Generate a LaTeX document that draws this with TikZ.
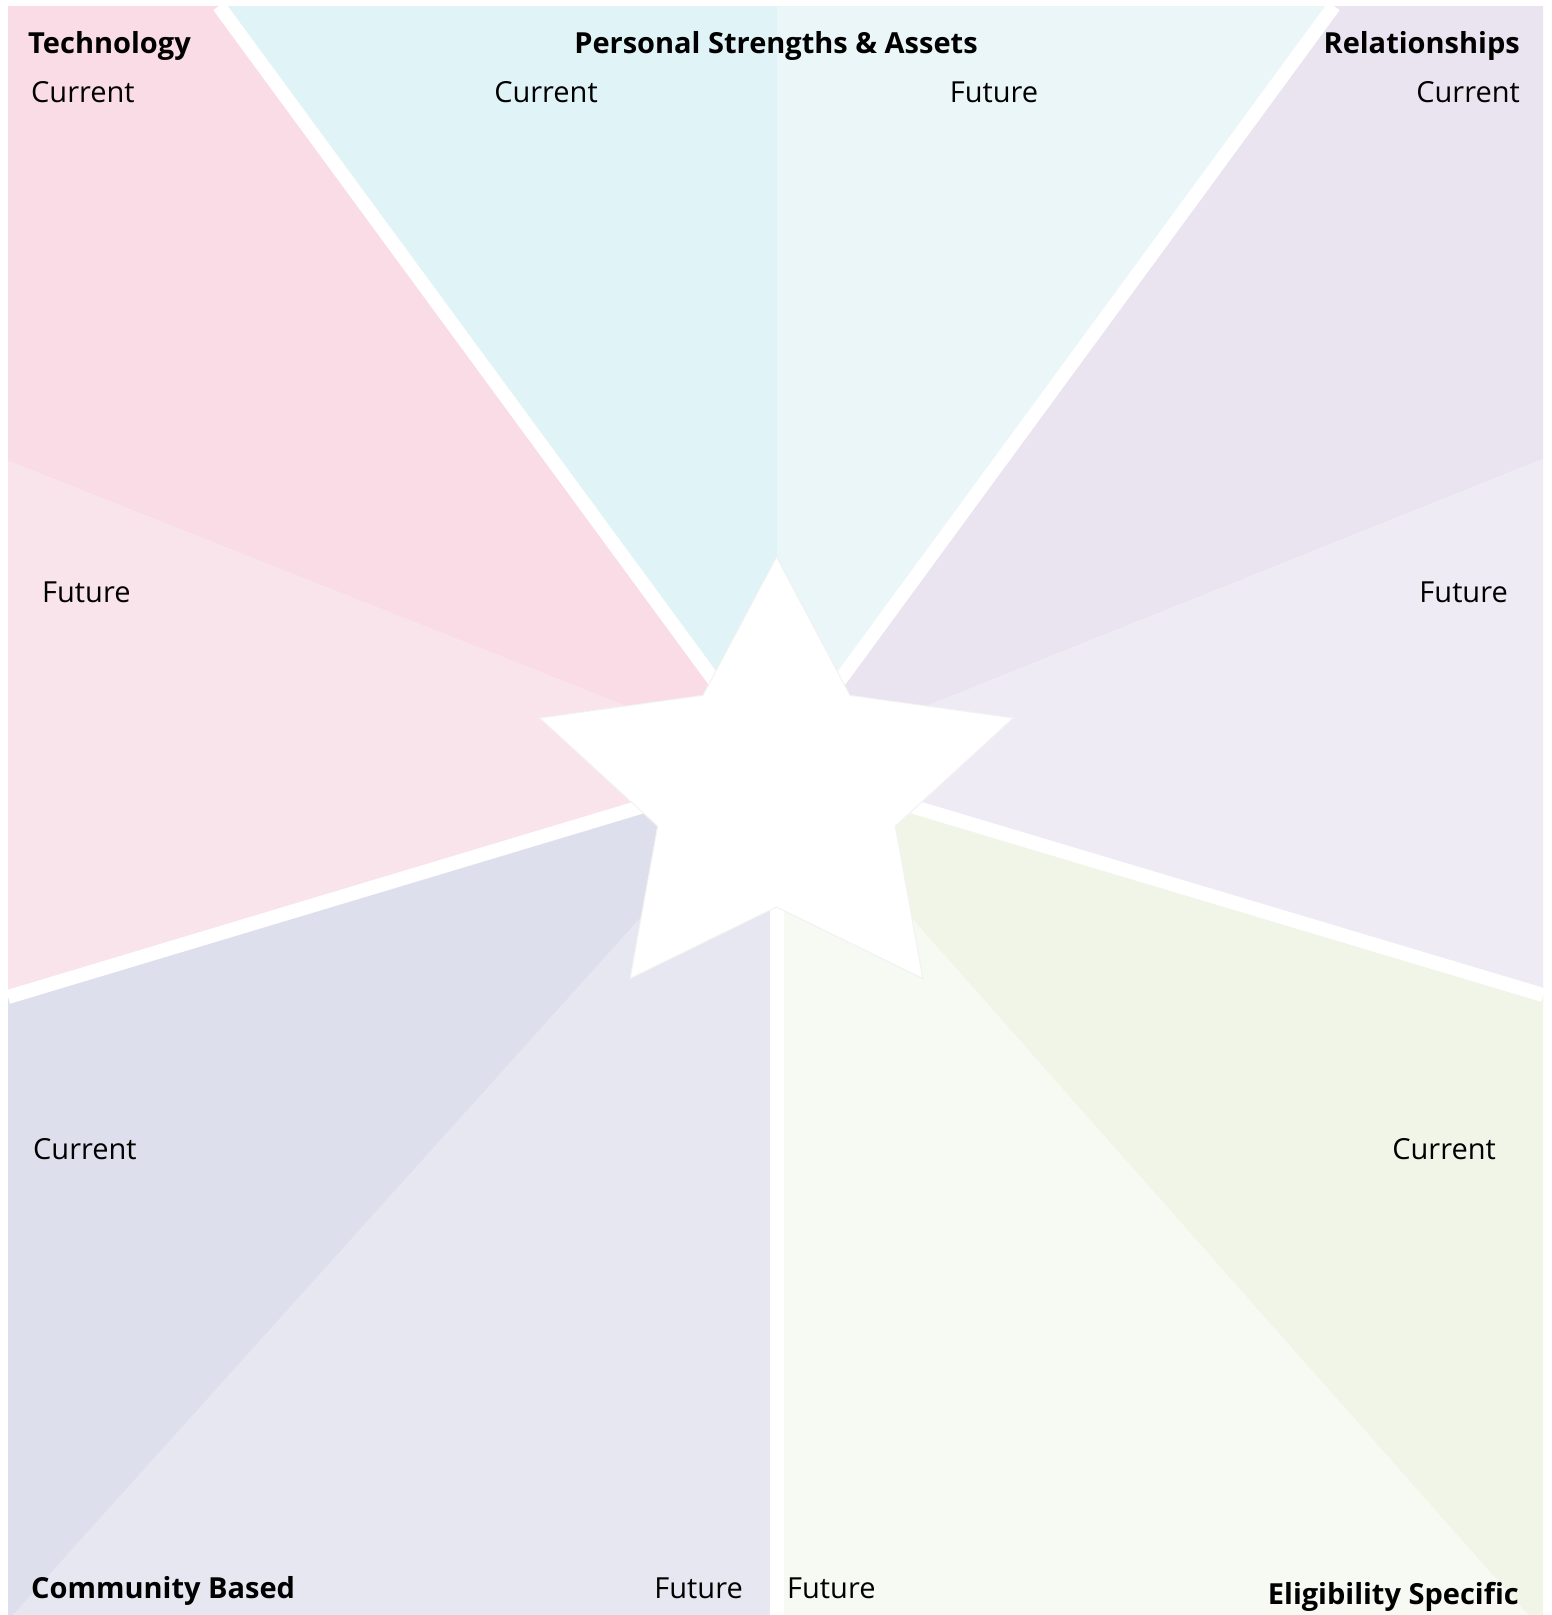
\documentclass[tikz,border=0pt]{standalone}
\usepackage{fontspec}
\setmainfont{Open Sans}
\definecolor{techC}{HTML}{FADCE6}
\definecolor{techF}{HTML}{FAE4EB}
\definecolor{persC}{HTML}{E0F3F7}
\definecolor{persF}{HTML}{EAF6F8}
\definecolor{relC}{HTML}{EAE3F0}
\definecolor{relF}{HTML}{EFEBF4}
\definecolor{eliC}{HTML}{F1F5E8}
\definecolor{eliF}{HTML}{F7F9F3}
\definecolor{comC}{HTML}{DDDFEC}
\definecolor{comF}{HTML}{E7E7F2}
\begin{document}
\begin{tikzpicture}[x=1pt,y=-1pt,
  lab/.style={inner sep=0pt, font=\fontsize{29}{34}\selectfont, text=black},
  head/.style={inner sep=0pt, font=\fontsize{29}{34}\selectfont\bfseries, text=black},
  sep/.style={draw=white, line width=14pt},
]
\useasboundingbox (0,0) rectangle (1551,1615);
\fill[white] (0,0) rectangle (1551,1615);
\coordinate (C) at (777,766);
\coordinate (TL) at (8,6);
\coordinate (TR) at (1543,6);
\coordinate (BL) at (8,1615);
\coordinate (BR) at (1543,1615);
\coordinate (s1) at (219,6);
\coordinate (d2) at (777,6);
\coordinate (s3) at (1334,6);
\coordinate (d4) at (1543,459);
\coordinate (s5) at (1543,995);
\coordinate (d6) at (1528,1615);
\coordinate (s7) at (777,1615);
\coordinate (d8) at (13,1615);
\coordinate (s9) at (8,997);
\coordinate (d10) at (8,461);
% sectors
\fill[techC] (C) -- (d10) -- (TL) -- (s1) -- cycle;
\fill[persC] (C) -- (s1) -- (d2) -- cycle;
\fill[persF] (C) -- (d2) -- (s3) -- cycle;
\fill[relC] (C) -- (s3) -- (TR) -- (d4) -- cycle;
\fill[relF] (C) -- (d4) -- (s5) -- cycle;
\fill[eliC] (C) -- (s5) -- (BR) -- (d6) -- cycle;
\fill[eliF] (C) -- (d6) -- (s7) -- cycle;
\fill[comF] (C) -- (s7) -- (d8) -- cycle;
\fill[comC] (C) -- (d8) -- (BL) -- (s9) -- cycle;
\fill[techF] (C) -- (s9) -- (d10) -- cycle;
% white separators
\draw[sep] (C) -- (s1);
\draw[sep] (C) -- (s3);
\draw[sep] (C) -- (s5);
\draw[sep] (C) -- (s7);
\draw[sep] (C) -- (s9);
% star
\fill[white, draw=black!5, line width=1pt, line join=miter]
  (776.5,556.9) -- (850,695.3) -- (1013.3,718) -- (895.4,826.2) -- (922.9,978.6)
  -- (776.5,907) -- (630.1,978.6) -- (657.6,826.2) -- (539.7,718) -- (703,695.3) -- cycle;
% labels
\node[head, anchor=base west] (tech) at (28,53) {Technology};
\node[lab, anchor=base west] (techCur) at (31,102) {Current};
\node[head, anchor=base] (pers) at (776,53) {Personal Strengths \& Assets};
\node[lab, anchor=base] (persCur) at (546,102) {Current};
\node[lab, anchor=base] (persFut) at (994,102) {Future};
\node[head, anchor=base east] (rel) at (1520,53) {Relationships};
\node[lab, anchor=base east] (relCur) at (1520,102) {Current};
\node[lab, anchor=base west] (techFut) at (42,602) {Future};
\node[lab, anchor=base east] (relFut) at (1508,602) {Future};
\node[lab, anchor=base west] (comCur) at (33,1159) {Current};
\node[lab, anchor=base east] (eliCur) at (1496,1159) {Current};
\node[head, anchor=base west] (com) at (31,1598) {Community Based};
\node[lab, anchor=base east] (comFut) at (743,1598) {Future};
\node[lab, anchor=base west] (eliFut) at (787,1598) {Future};
\node[head, anchor=base east] (eli) at (1519,1604) {Eligibility Specific};
\end{tikzpicture}
\end{document}
